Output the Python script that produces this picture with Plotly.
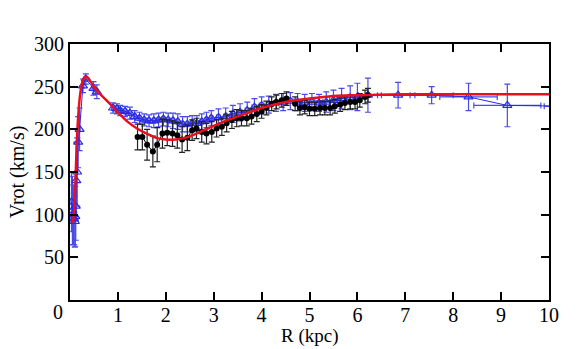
import plotly.graph_objects as go

# Blue open triangles (data set 1)
blue_R = [0.03, 0.05, 0.07, 0.08, 0.10, 0.11, 0.12, 0.13, 0.15, 0.17, 0.20, 0.27, 0.33, 0.49, 0.56,
          0.90, 0.98, 1.05, 1.15, 1.25, 1.35, 1.45, 1.55, 1.65, 1.75, 1.85, 1.95, 2.05, 2.15, 2.25,
          2.35, 2.45, 2.55, 2.65, 2.75, 2.85, 2.95, 3.10, 3.25, 3.40, 3.55, 3.70, 3.85, 4.00, 4.15,
          4.30, 4.45, 4.60, 4.75, 4.90, 5.05, 5.20, 5.35, 5.50, 5.67, 5.85, 6.00, 6.22, 6.85, 7.55,
          8.32, 9.13, 10.6]
blue_V = [115, 105, 100, 95, 92, 98, 110, 140, 150, 185, 200, 251, 259, 248, 244,
          225, 224, 222, 221, 219, 215, 213, 211, 210, 210, 211, 212, 211, 210, 209,
          206, 206, 207, 207, 209, 211, 213, 214, 215, 218, 220, 222, 226, 228, 229,
          231, 232, 233, 232, 231, 232, 231, 232, 234, 236, 237, 238, 240, 240, 240,
          238, 228, 227]
blue_eV = [35, 40, 35, 30, 30, 35, 40, 45, 40, 30, 25, 8, 6, 8, 8,
           6, 6, 6, 6, 7, 7, 7, 7, 7, 8, 8, 8, 8, 9, 9,
           9, 9, 9, 9, 9, 9, 9, 10, 10, 10, 10, 10, 10, 10, 10,
           10, 10, 10, 10, 10, 10, 10, 12, 12, 12, 14, 16, 20, 15, 10,
           16, 25, 10]
blue_eR = [0.01, 0.01, 0.01, 0.01, 0.01, 0.01, 0.01, 0.01, 0.01, 0.01, 0.01, 0.02, 0.03, 0.03, 0.03,
           0.03, 0.03, 0.03, 0.03, 0.03, 0.03, 0.03, 0.03, 0.03, 0.03, 0.03, 0.03, 0.03, 0.03, 0.03,
           0.03, 0.03, 0.03, 0.03, 0.03, 0.03, 0.03, 0.04, 0.04, 0.04, 0.04, 0.04, 0.05, 0.05, 0.05,
           0.05, 0.05, 0.05, 0.05, 0.06, 0.06, 0.06, 0.07, 0.08, 0.1, 0.12, 0.15, 0.2, 0.35, 0.45,
           0.6, 0.7, 0.7]

# Black filled circles (data set 2)
black_R = [1.41, 1.51, 1.61, 1.73, 1.82, 1.93, 2.03, 2.14, 2.24, 2.34, 2.45, 2.55, 2.64, 2.75,
           2.85, 2.96, 3.06, 3.17, 3.27, 3.38, 3.48, 3.58, 3.69, 3.79, 3.90, 4.00, 4.10, 4.21,
           4.31, 4.42, 4.52, 4.70, 4.80, 4.90, 5.00, 5.11, 5.22, 5.32, 5.43, 5.53, 5.64, 5.74,
           5.85, 5.95, 6.05, 6.16, 6.22]
black_V = [191, 191, 182, 174, 182, 195, 196, 195, 193, 188, 190, 199, 201, 197,
           195, 197, 201, 203, 207, 211, 213, 213, 213, 215, 218, 221, 225, 230,
           232, 234, 236, 230, 225, 226, 224, 224, 225, 225, 225, 227, 229, 231,
           232, 232, 234, 238, 240]
black_eV = [15, 15, 18, 18, 20, 17, 15, 15, 15, 15, 15, 12, 12, 12,
            12, 12, 10, 10, 10, 10, 10, 9, 9, 9, 9, 8, 8, 8,
            8, 8, 8, 8, 8, 8, 8, 8, 8, 8, 8, 8, 8, 8,
            8, 8, 8, 8, 8]

# Red model curve
model_R = [0.06, 0.08, 0.10, 0.12, 0.14, 0.16, 0.18, 0.20, 0.23, 0.26, 0.30, 0.34, 0.38, 0.44,
           0.50, 0.60, 0.80, 1.00, 1.20, 1.40, 1.60, 1.80, 2.00, 2.20, 2.40, 2.60, 2.80, 3.00,
           3.30, 3.60, 4.00, 4.50, 5.00, 5.50, 6.00, 7.00, 8.00, 9.00, 10.00]
model_V = [90, 100, 120, 150, 180, 205, 222, 235, 248, 256, 261, 262, 260, 255,
           250, 243, 232, 220, 209, 201, 195, 190, 188, 188, 190, 194, 199, 204,
           211, 217, 225, 232, 236, 239, 240, 241, 241, 241, 241]

x_ticks = [1, 2, 3, 4, 5, 6, 7, 8, 9, 10]
y_ticks = [50, 100, 150, 200, 250, 300]

FONT = "Liberation Serif"

fig = go.Figure()
fig.add_trace(go.Scatter(
    x=blue_R, y=blue_V, mode="lines+markers",
    line=dict(color="#2a2ae0", width=1),
    marker=dict(symbol="triangle-up-open", size=8, color="#2a2ae0", line=dict(width=1.2)),
    error_y=dict(type="data", array=blue_eV, color="#4a4ae8", thickness=1.2, width=3),
    error_x=dict(type="data", array=blue_eR, color="#4a4ae8", thickness=1.2, width=3),
    showlegend=False))
fig.add_trace(go.Scatter(
    x=black_R, y=black_V, mode="lines+markers",
    line=dict(color="black", width=1),
    marker=dict(symbol="circle", size=6, color="black"),
    error_y=dict(type="data", array=black_eV, color="#222222", thickness=1.2, width=3),
    showlegend=False))
fig.add_trace(go.Scatter(
    x=model_R, y=model_V, mode="lines", line=dict(color="#e8101e", width=2.5, shape="spline"),
    showlegend=False))

axis_common = dict(showline=True, linecolor="black", linewidth=2, mirror="allticks",
                   ticks="inside", ticklen=8, tickwidth=1.5, tickcolor="black",
                   showgrid=False, zeroline=False, automargin=False,
                   tickfont=dict(family=FONT, size=20, color="black"))
fig.update_xaxes(range=[0, 10], tickvals=x_ticks, ticktext=[str(v) for v in x_ticks],
                 ticklabelstandoff=-4, **axis_common)
fig.update_yaxes(range=[0, 300], tickvals=y_ticks, ticktext=[str(v) for v in y_ticks],
                 title=dict(text="Vrot (km/s)", font=dict(family=FONT, size=20, color="black"), standoff=4),
                 **axis_common)
fig.add_annotation(text="0", xref="paper", yref="paper", x=0, y=0, xanchor="right", yanchor="top",
                   xshift=-5, yshift=1, showarrow=False, font=dict(family=FONT, size=20, color="black"))
fig.add_annotation(text="R (kpc)", xref="paper", yref="paper", x=0.5, y=-0.141, xanchor="center",
                   yanchor="middle", showarrow=False, font=dict(family=FONT, size=19, color="black"))

fig.update_layout(width=588, height=349, margin=dict(l=70, r=39, t=44, b=49),
                  paper_bgcolor="white", plot_bgcolor="white", font=dict(family=FONT, size=20))
fig.write_html("out.html")
